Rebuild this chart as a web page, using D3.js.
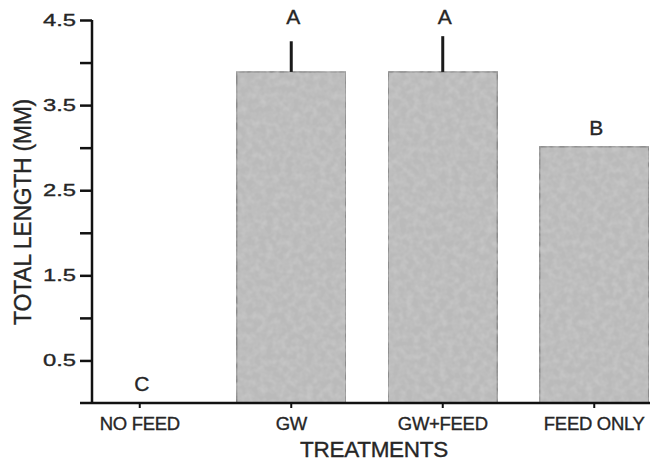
<!DOCTYPE html>
<html>
<head>
<meta charset="utf-8">
<script src="https://cdn.jsdelivr.net/npm/d3@7"></script>
<style>
  body { margin: 0; background: #fff; }
  text { font-family: "Liberation Sans", Arial, sans-serif; fill: #262626; stroke: #262626; stroke-width: 0.35px; }
</style>
</head>
<body>
<svg id="chart"></svg>
<script>
// data
const treatments = ["NO FEED", "GW", "GW+FEED", "FEED ONLY"];
const lengths = [0, 3.89, 3.89, 3.01];
const errors = [0, 0.36, 0.42, 0];
const letters = ["C", "A", "A", "B"];
const yTicks = [0.5, 1, 1.5, 2, 2.5, 3, 3.5, 4, 4.5];
const yLabels = [0.5, 1.5, 2.5, 3.5, 4.5];

const width = 659, height = 463;
const svg = d3.select("#chart").attr("width", width).attr("height", height);

const data = treatments.map((t, i) => ({ t, v: lengths[i], e: errors[i], l: letters[i] }));

const x = d3.scaleBand().domain(treatments).range([64, 670]).paddingInner(0.28).paddingOuter(0.14);
const y = d3.scaleLinear().domain([0, 4.5]).range([403, 20]);

// speckled grey texture for the bars
const defs = svg.append("defs");
const f = defs.append("filter").attr("id", "speckle").attr("x", 0).attr("y", 0).attr("width", 1).attr("height", 1);
f.append("feTurbulence").attr("type", "fractalNoise").attr("baseFrequency", 0.15).attr("numOctaves", 2).attr("seed", 3).attr("result", "n");
f.append("feColorMatrix").attr("in", "n").attr("type", "matrix")
  .attr("values", "0 0 0 0 0.6  0 0 0 0 0.6  0 0 0 0 0.6  0 0 0 1.3 -0.45").attr("result", "spots");
f.append("feComposite").attr("in", "spots").attr("in2", "SourceGraphic").attr("operator", "atop");

// bars
svg.append("g").selectAll("rect")
  .data(data.filter(d => d.v > 0))
  .join("rect")
  .attr("x", d => x(d.t))
  .attr("y", d => y(d.v))
  .attr("width", x.bandwidth())
  .attr("height", d => y(0) - y(d.v))
  .attr("fill", "#bababa")
  .attr("stroke", "#8a8a8a")
  .attr("stroke-width", 1.5)
  .attr("filter", "url(#speckle)");

// error bars (upper only)
svg.append("g").selectAll("line")
  .data(data.filter(d => d.e > 0))
  .join("line")
  .attr("x1", d => x(d.t) + x.bandwidth() / 2)
  .attr("x2", d => x(d.t) + x.bandwidth() / 2)
  .attr("y1", d => y(d.v))
  .attr("y2", d => y(d.v + d.e))
  .attr("stroke", "#1a1a1a")
  .attr("stroke-width", 3);

// significance letters, same letters share a height
const topByLetter = d3.rollup(data, g => d3.max(g, d => d.v + d.e), d => d.l);
svg.append("g").selectAll("text")
  .data(data)
  .join("text")
  .attr("x", d => x(d.t) + x.bandwidth() / 2 + 2)
  .attr("y", d => y(topByLetter.get(d.l)) - 12)
  .attr("text-anchor", "middle")
  .style("font-size", "21px")
  .text(d => d.l);

// y axis
const yAxis = svg.append("g").attr("transform", "translate(92,0)")
  .call(d3.axisLeft(y).tickValues(yTicks).tickSize(12).tickFormat(""));
yAxis.select(".domain").attr("d", `M0,${y(4.5)}V${y(0)}`).attr("stroke", "#111").attr("stroke-width", 2.5);
yAxis.selectAll(".tick line").attr("stroke", "#111").attr("stroke-width", 2.5);

svg.append("g").selectAll("text")
  .data(yLabels)
  .join("text")
  .attr("transform", d => `translate(76,${y(d) + 6}) scale(1.4,1)`)
  .attr("text-anchor", "end")
  .style("font-size", "17px")
  .text(d => d3.format(".1f")(d));

// x axis
const xAxis = svg.append("g").attr("transform", `translate(0,${y(0)})`)
  .call(d3.axisBottom(x).tickSize(5).tickSizeOuter(0));
xAxis.select(".domain").attr("d", "M80,0H650").attr("stroke", "#111").attr("stroke-width", 2.5);
xAxis.selectAll(".tick line").attr("stroke", "#111").attr("stroke-width", 2);
xAxis.selectAll(".tick text")
  .attr("y", 14)
  .attr("dy", "0.71em")
  .attr("font-family", null)
  .attr("font-size", null)
  .style("font-size", "18.5px")
  .style("letter-spacing", "-0.3px");

// axis titles
svg.append("text")
  .attr("transform", `translate(31,212) rotate(-90)`)
  .attr("text-anchor", "middle")
  .style("font-size", "23px")
  .style("letter-spacing", "-0.3px")
  .text("TOTAL LENGTH (MM)");

svg.append("text")
  .attr("x", 374)
  .attr("y", 457)
  .attr("text-anchor", "middle")
  .style("font-size", "22.5px")
  .style("letter-spacing", "-0.3px")
  .text("TREATMENTS");
</script>
</body>
</html>
